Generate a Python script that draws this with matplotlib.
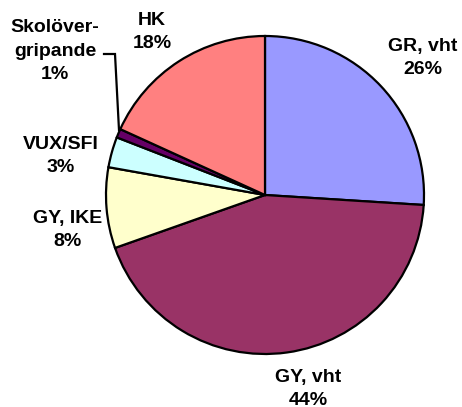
import matplotlib
matplotlib.use("Agg")
import matplotlib.pyplot as plt

categories = ["GR, vht", "GY, vht", "GY, IKE", "VUX/SFI", "Skolöver-\ngripande", "HK"]
values = [26.0, 43.6, 8.2, 3.1, 0.9, 18.2]
colors = ["#9999FF", "#993366", "#FFFFCC", "#CCFFFF", "#660066", "#FF8080"]

W, H = 462, 407
fig = plt.figure(figsize=(W / 100, H / 100), dpi=100)
ax = fig.add_axes([0, 0, 1, 1])

cx, cy, r = 265, H - 195, 159
ax.pie(values, colors=colors, startangle=90, counterclock=False,
       center=(cx, cy), radius=r, frame=True,
       wedgeprops=dict(edgecolor="black", linewidth=1.6))
ax.set_xlim(0, W)
ax.set_ylim(0, H)
ax.set_aspect("equal")
ax.axis("off")

font = dict(family=["Liberation Sans", "DejaVu Sans"], fontsize=14, fontweight="bold",
            ha="center", va="center", linespacing=1.5)
label_pos = [(423, 58), (308, 389), (68, 230), (61, 156), (55, 51), (152, 32)]
for name, v, (px, py) in zip(categories, values, label_pos):
    ax.text(px, H - py, f"{name}\n{v:.0f}%", **font)

# leader line for the small slice
ax.plot([104, 115, 119], [H - 54, H - 54, H - 130], color="black", linewidth=1.6,
        solid_joinstyle="miter")

fig.savefig("out.png", dpi=100)
